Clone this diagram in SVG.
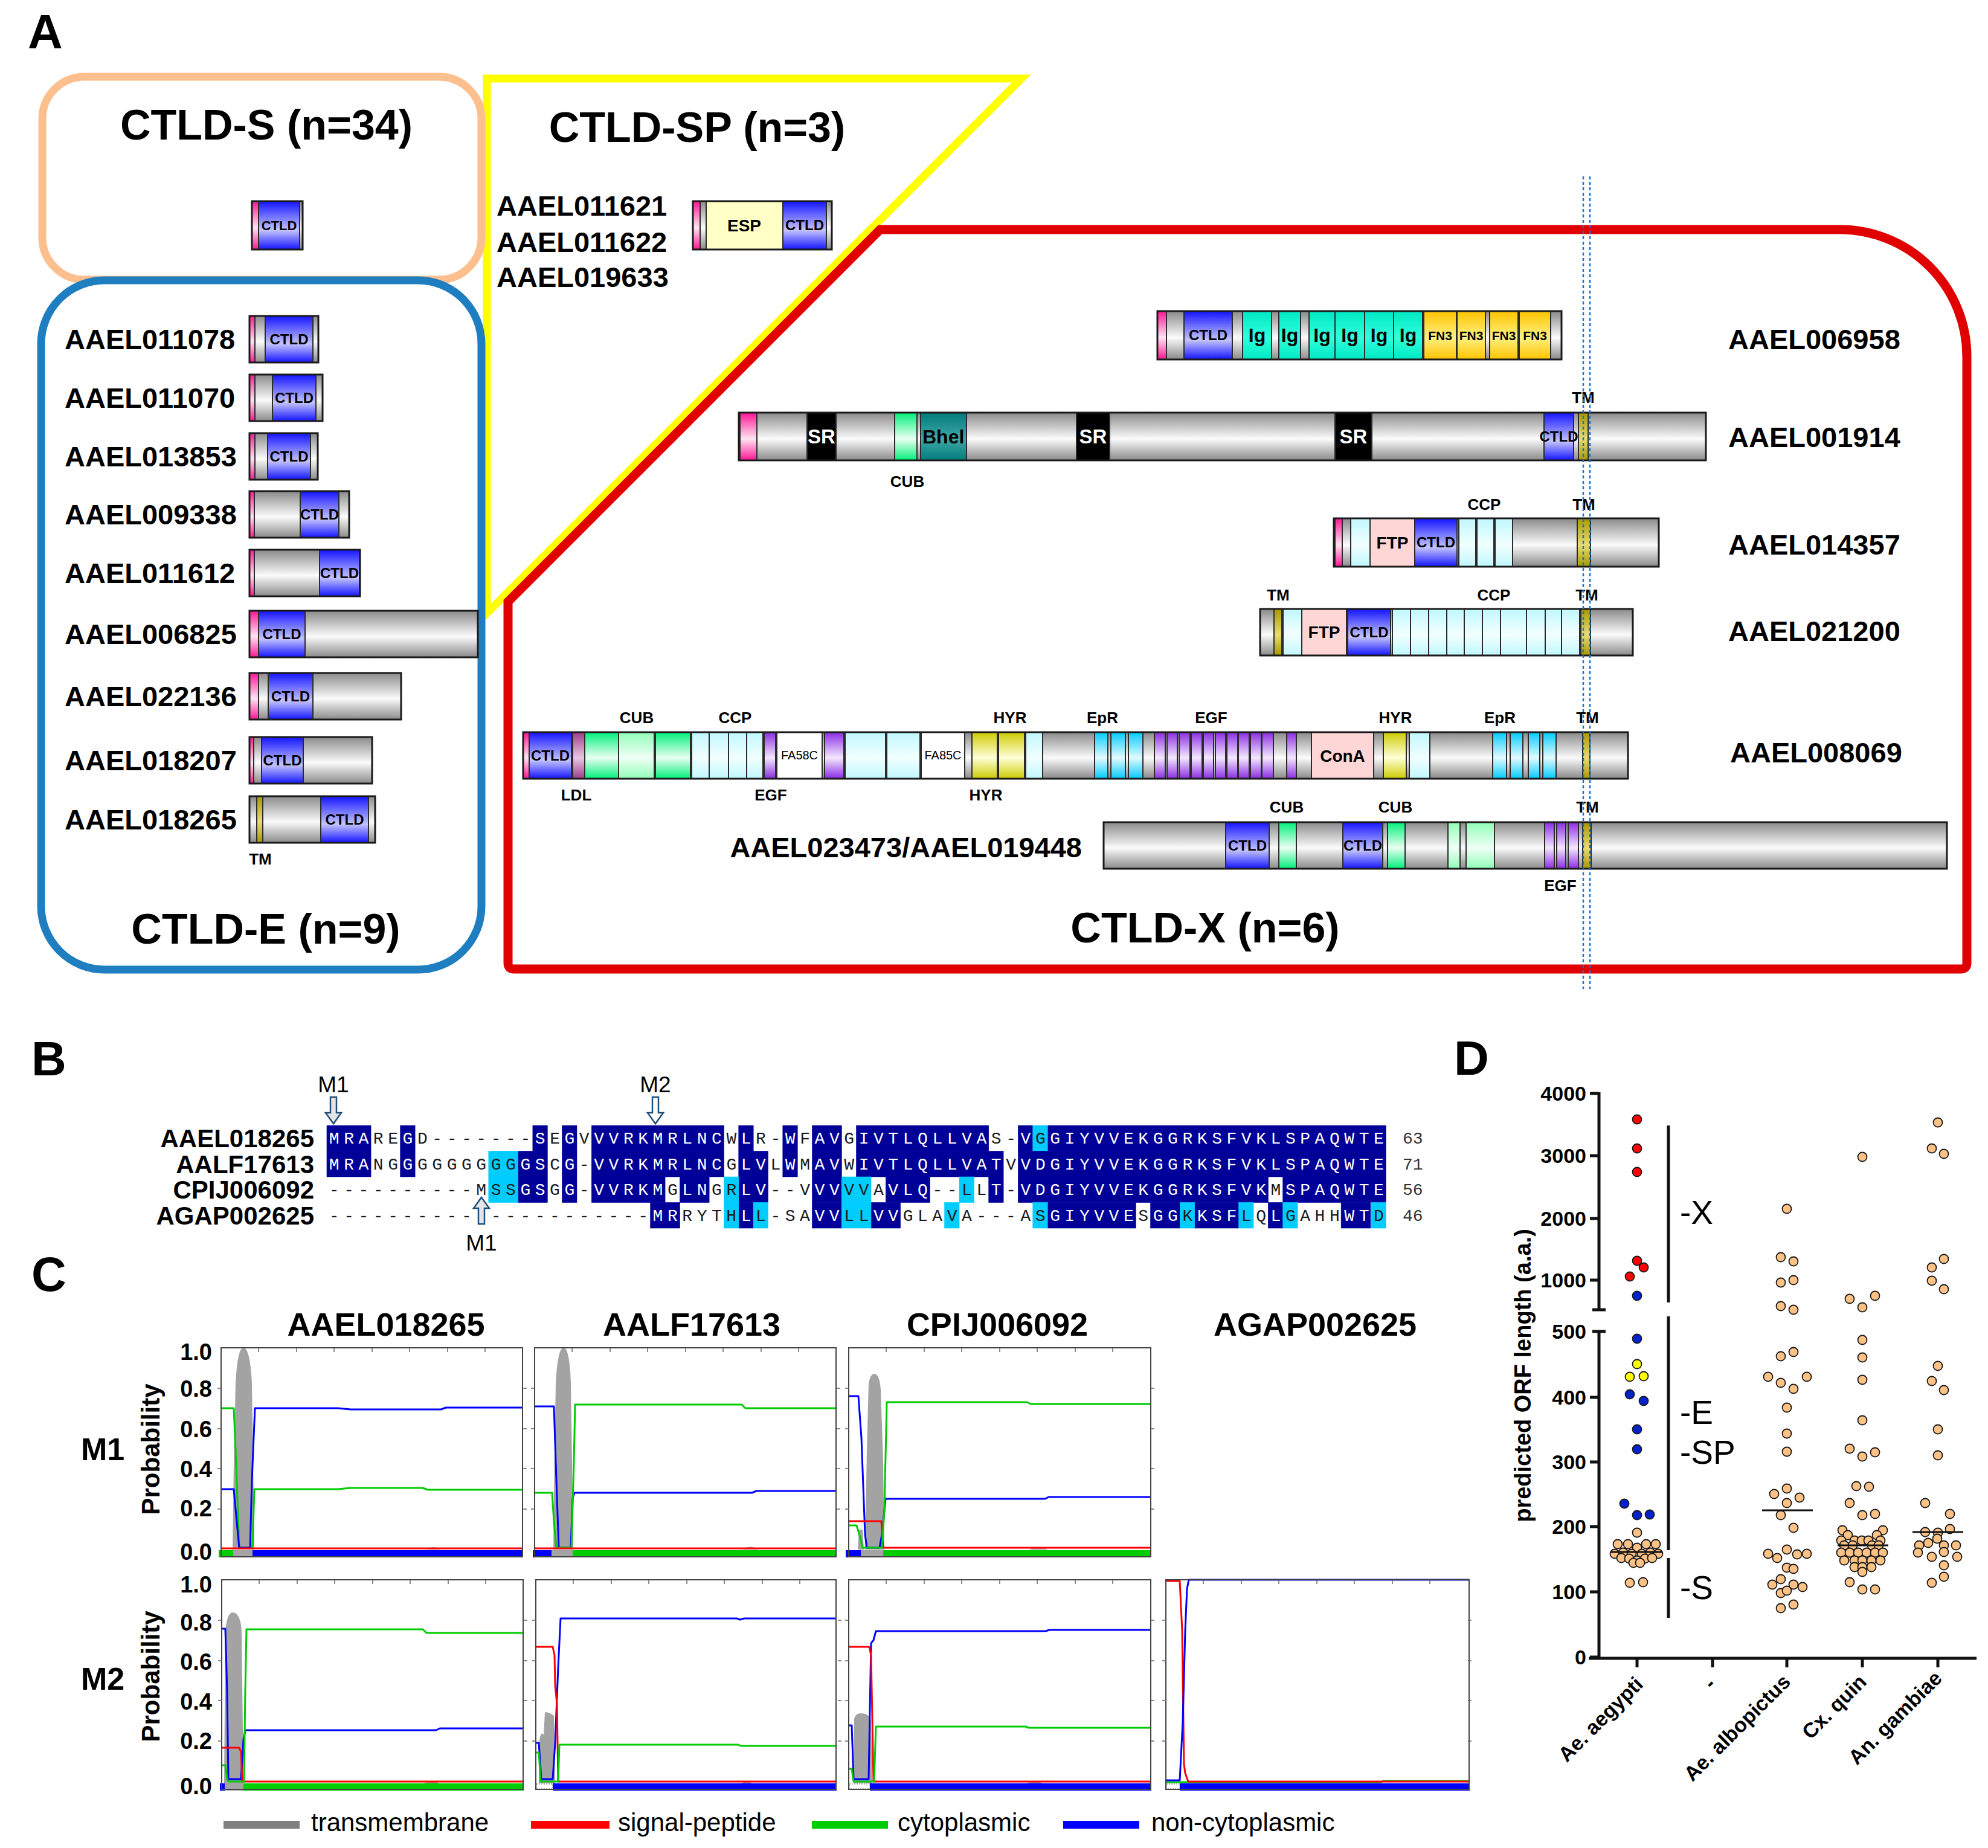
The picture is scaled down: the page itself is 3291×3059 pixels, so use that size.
<svg xmlns="http://www.w3.org/2000/svg" width="3291" height="3059" viewBox="0 0 3291 3059">
<defs>
<linearGradient id="gGray" x1="0" y1="0" x2="0" y2="1"><stop offset="0" stop-color="#8a8a8a"/><stop offset="0.55" stop-color="#fbfbfb"/><stop offset="1" stop-color="#8a8a8a"/></linearGradient>
<linearGradient id="gBlue" x1="0" y1="0" x2="0" y2="1"><stop offset="0" stop-color="#1414ff"/><stop offset="0.6" stop-color="#c4c4ff"/><stop offset="1" stop-color="#1414ff"/></linearGradient>
<linearGradient id="gPink" x1="0" y1="0" x2="0" y2="1"><stop offset="0" stop-color="#ff1493"/><stop offset="0.55" stop-color="#ffe4f2"/><stop offset="1" stop-color="#ff1493"/></linearGradient>
<linearGradient id="gIg" x1="0" y1="0" x2="0" y2="1"><stop offset="0" stop-color="#00e8c4"/><stop offset="0.55" stop-color="#30ffdc"/><stop offset="1" stop-color="#00e8c4"/></linearGradient>
<linearGradient id="gFN" x1="0" y1="0" x2="0" y2="1"><stop offset="0" stop-color="#ffc400"/><stop offset="0.55" stop-color="#fff080"/><stop offset="1" stop-color="#ffc400"/></linearGradient>
<linearGradient id="gCCP" x1="0" y1="0" x2="0" y2="1"><stop offset="0" stop-color="#bff8ff"/><stop offset="0.55" stop-color="#f2ffff"/><stop offset="1" stop-color="#bff8ff"/></linearGradient>
<linearGradient id="gBhel" x1="0" y1="0" x2="0" y2="1"><stop offset="0" stop-color="#007a7a"/><stop offset="0.55" stop-color="#40a8a8"/><stop offset="1" stop-color="#007a7a"/></linearGradient>
<linearGradient id="gCUB" x1="0" y1="0" x2="0" y2="1"><stop offset="0" stop-color="#00f07a"/><stop offset="0.55" stop-color="#eafff2"/><stop offset="1" stop-color="#00f07a"/></linearGradient>
<linearGradient id="gCUB2" x1="0" y1="0" x2="0" y2="1"><stop offset="0" stop-color="#90ffb8"/><stop offset="0.55" stop-color="#f0fff6"/><stop offset="1" stop-color="#90ffb8"/></linearGradient>
<linearGradient id="gHYR" x1="0" y1="0" x2="0" y2="1"><stop offset="0" stop-color="#cccc00"/><stop offset="0.55" stop-color="#ffffd8"/><stop offset="1" stop-color="#cccc00"/></linearGradient>
<linearGradient id="gEpR" x1="0" y1="0" x2="0" y2="1"><stop offset="0" stop-color="#00ccff"/><stop offset="0.55" stop-color="#e4faff"/><stop offset="1" stop-color="#00ccff"/></linearGradient>
<linearGradient id="gEGF" x1="0" y1="0" x2="0" y2="1"><stop offset="0" stop-color="#8a2be2"/><stop offset="0.55" stop-color="#f4e8ff"/><stop offset="1" stop-color="#8a2be2"/></linearGradient>
<linearGradient id="gTM" x1="0" y1="0" x2="0" y2="1"><stop offset="0" stop-color="#a89800"/><stop offset="0.55" stop-color="#e8dc70"/><stop offset="1" stop-color="#a89800"/></linearGradient>
<linearGradient id="gLDL" x1="0" y1="0" x2="0" y2="1"><stop offset="0" stop-color="#a03c8c"/><stop offset="0.55" stop-color="#e8c8e0"/><stop offset="1" stop-color="#a03c8c"/></linearGradient>
<path id="ticks" d="M62,0v7 M125,0v7 M187,0v7 M250,0v7 M312,0v7 M375,0v7 M437,0v7 M500,67h6 M500,134h6 M500,200h6 M500,267h6 M0,67h-6 M0,134h-6 M0,200h-6 M0,267h-6" stroke="#666" stroke-width="1.5" fill="none"/>
</defs>
<style>
text{font-family:"Liberation Sans",Arial,sans-serif}
.b{font-weight:bold}
.L{font-size:80px;font-weight:bold}
.ti{font-size:70px;font-weight:bold;text-anchor:middle}
.gn{font-size:47px;font-weight:bold}
.ct{font-size:24px;font-weight:bold;text-anchor:middle}
.dl{font-size:26px;font-weight:bold;text-anchor:middle}
.bar rect{stroke:#2b2b2b;stroke-width:2}
.bar .ol{fill:none;stroke:#1a1a1a;stroke-width:3}
.gr{fill:url(#gGray)}.bu{fill:url(#gBlue)}.pk{fill:url(#gPink)}.ig{fill:url(#gIg)}.fn{fill:url(#gFN)}.cc{fill:url(#gCCP)}.ft{fill:#ffd6d6}.sr{fill:#000}.bh{fill:url(#gBhel)}.cu{fill:url(#gCUB)}.c2{fill:url(#gCUB2)}.hy{fill:url(#gHYR)}.ep{fill:url(#gEpR)}.eg{fill:url(#gEGF)}.tm{fill:url(#gTM)}.ld{fill:url(#gLDL)}.es{fill:#ffffc6}.wh{fill:#fff}
.seq{font-family:"Liberation Mono","Courier New",monospace;font-size:28px;letter-spacing:7.55px}
.w{fill:#fff}.k{fill:#1a1a1a}
.nb{fill:#000099;stroke:#000099;stroke-width:0.6}.nc{fill:#00ccff;stroke:#00ccff;stroke-width:0.6}
.an{font-size:42px;font-weight:bold;text-anchor:end}
.arw{fill:#e4e4e4;stroke:#1f4e79;stroke-width:2.5}
.fr{fill:none;stroke:#444;stroke-width:2}
.cv{fill:none;stroke-width:3;stroke-linejoin:round}
.G{stroke:#00cc00}.B{stroke:#0000ff}.R{stroke:#ff0000}
.tmf{fill:#a3a3a3}
.yl{font-size:38px;font-weight:bold;text-anchor:end}
.lgt{font-size:42px}
.pt circle{r:7.5px;stroke:#1a1a1a;stroke-width:1.8}
.pe{fill:#ffc285}.rd{fill:#ff0000}.bd{fill:#0022cc}.yw{fill:#ffff00}
.dy{font-size:34px;font-weight:bold;text-anchor:end}
</style>
<rect width="3291" height="3059" fill="#fff"/>

<g id="panelA">
<text class="L" x="46" y="80">A</text>
<path id="sp-frame" d="M806,130 L1691,130 L806,1015 Z" fill="none" stroke="#ffff00" stroke-width="13" stroke-linejoin="miter"/>
<path id="x-frame" d="M841,1594 L841,996 L1457,380 L3046,380 A210,210 0 0 1 3256,590 L3256,1594 Q3256,1604 3246,1604 L851,1604 Q841,1604 841,1594 Z" fill="none" stroke="#e00000" stroke-width="15"/>
<rect id="s-frame" x="70" y="127" width="727" height="336" rx="70" fill="none" stroke="#fdbf8e" stroke-width="13"/>
<rect id="e-frame" x="68" y="464" width="729" height="1141" rx="105" fill="none" stroke="#1f7ec0" stroke-width="13"/>
<text class="ti" x="441" y="231">CTLD-S (n=34)</text>
<text class="ti" x="1154" y="235">CTLD-SP (n=3)</text>
<text class="ti" x="440" y="1562">CTLD-E (n=9)</text>
<text class="ti" x="1995" y="1560">CTLD-X (n=6)</text>

<g id="s-bar" class="bar"><rect class="gr" x="417" y="333" width="84" height="80"/><rect class="pk" x="417" y="333" width="11" height="80"/><rect class="bu" x="428" y="333" width="68" height="80"/><text class="ct" x="462" y="381" style="font-size:22px">CTLD</text><rect class="ol" x="417" y="333" width="84" height="80"/></g>

<g id="sp-genes"><text class="gn" x="822" y="357">AAEL011621</text><text class="gn" x="822" y="417">AAEL011622</text><text class="gn" x="822" y="475">AAEL019633</text></g>
<g id="sp-bar" class="bar"><rect class="gr" x="1147" y="333" width="230" height="80"/><rect class="pk" x="1147" y="333" width="12" height="80"/><rect class="es" x="1169" y="333" width="127" height="80"/><rect class="bu" x="1296" y="333" width="72" height="80"/><text class="b" x="1232" y="383" text-anchor="middle" font-size="28">ESP</text><text class="ct" x="1332" y="381">CTLD</text><rect class="ol" x="1147" y="333" width="230" height="80"/></g>

<g id="e-genes">
<text class="gn" x="107" y="578">AAEL011078</text>
<text class="gn" x="107" y="675">AAEL011070</text>
<text class="gn" x="107" y="772">AAEL013853</text>
<text class="gn" x="107" y="868">AAEL009338</text>
<text class="gn" x="107" y="965">AAEL011612</text>
<text class="gn" x="107" y="1066">AAEL006825</text>
<text class="gn" x="107" y="1169">AAEL022136</text>
<text class="gn" x="107" y="1275">AAEL018207</text>
<text class="gn" x="107" y="1373">AAEL018265</text>
</g>
<g id="e-bars" class="bar">
<rect class="gr" x="413" y="523" width="114" height="77"/><rect class="pk" x="413" y="523" width="9" height="77"/><rect class="bu" x="439" y="523" width="79" height="77"/><text class="ct" x="478.5" y="570">CTLD</text><rect class="ol" x="413" y="523" width="114" height="77"/>
<rect class="gr" x="413" y="620" width="121" height="77"/><rect class="pk" x="413" y="620" width="9" height="77"/><rect class="bu" x="451" y="620" width="72" height="77"/><text class="ct" x="487" y="667">CTLD</text><rect class="ol" x="413" y="620" width="121" height="77"/>
<rect class="gr" x="413" y="717" width="113" height="77"/><rect class="pk" x="413" y="717" width="9" height="77"/><rect class="bu" x="443" y="717" width="71" height="77"/><text class="ct" x="478.5" y="764">CTLD</text><rect class="ol" x="413" y="717" width="113" height="77"/>
<rect class="gr" x="413" y="813" width="165" height="77"/><rect class="pk" x="413" y="813" width="8" height="77"/><rect class="bu" x="497" y="813" width="64" height="77"/><text class="ct" x="529" y="860">CTLD</text><rect class="ol" x="413" y="813" width="165" height="77"/>
<rect class="gr" x="413" y="910" width="183" height="77"/><rect class="pk" x="413" y="910" width="8" height="77"/><rect class="bu" x="529" y="910" width="66" height="77"/><text class="ct" x="562" y="957">CTLD</text><rect class="ol" x="413" y="910" width="183" height="77"/>
<rect class="gr" x="413" y="1011" width="378" height="77"/><rect class="pk" x="413" y="1011" width="15" height="77"/><rect class="bu" x="428" y="1011" width="77" height="77"/><text class="ct" x="466.5" y="1058">CTLD</text><rect class="ol" x="413" y="1011" width="378" height="77"/>
<rect class="gr" x="413" y="1114" width="251" height="77"/><rect class="pk" x="413" y="1114" width="15" height="77"/><rect class="bu" x="444" y="1114" width="74" height="77"/><text class="ct" x="481" y="1161">CTLD</text><rect class="ol" x="413" y="1114" width="251" height="77"/>
<rect class="gr" x="413" y="1220" width="203" height="77"/><rect class="pk" x="413" y="1220" width="7" height="77"/><rect class="bu" x="433" y="1220" width="69" height="77"/><text class="ct" x="467.5" y="1267">CTLD</text><rect class="ol" x="413" y="1220" width="203" height="77"/>
<rect class="gr" x="413" y="1318" width="208" height="77"/><rect class="tm" x="425" y="1318" width="10" height="77"/><rect class="bu" x="531" y="1318" width="79" height="77"/><text class="ct" x="570.5" y="1365">CTLD</text><rect class="ol" x="413" y="1318" width="208" height="77"/>
</g>
<text class="dl" x="431" y="1431">TM</text>

<g id="AAEL006958" class="bar">
<rect class="gr" x="1916" y="515" width="669" height="80"/>
<rect class="pk" x="1916" y="515" width="15" height="80"/>
<rect class="bu" x="1960" y="515" width="80" height="80"/>
<rect class="ig" x="2057" y="515" width="48" height="80"/><rect class="ig" x="2117" y="515" width="36" height="80"/><rect class="ig" x="2167" y="515" width="43" height="80"/><rect class="ig" x="2210" y="515" width="49" height="80"/><rect class="ig" x="2259" y="515" width="48" height="80"/><rect class="ig" x="2307" y="515" width="48" height="80"/>
<rect class="fn" x="2357" y="515" width="54" height="80"/><rect class="fn" x="2412" y="515" width="47" height="80"/><rect class="fn" x="2466" y="515" width="47" height="80"/><rect class="fn" x="2515" y="515" width="52" height="80"/>
<text class="ct" x="2000" y="563">CTLD</text>
<g class="b" font-size="32" text-anchor="middle"><text x="2081" y="566">Ig</text><text x="2135" y="566">Ig</text><text x="2188.5" y="566">Ig</text><text x="2234.5" y="566">Ig</text><text x="2283" y="566">Ig</text><text x="2331" y="566">Ig</text></g>
<g class="b" font-size="21" text-anchor="middle"><text x="2384" y="563">FN3</text><text x="2435.5" y="563">FN3</text><text x="2489.5" y="563">FN3</text><text x="2541" y="563">FN3</text></g>
<rect class="ol" x="1916" y="515" width="669" height="80"/>
</g>
<text class="gn" x="2861" y="578">AAEL006958</text>

<g id="AAEL001914" class="bar">
<rect class="gr" x="1223" y="683" width="1601" height="79"/>
<rect class="pk" x="1225" y="683" width="28" height="79"/>
<rect class="sr" x="1336" y="683" width="48" height="79"/><rect class="sr" x="1782" y="683" width="55" height="79"/><rect class="sr" x="2210" y="683" width="61" height="79"/>
<rect class="cu" x="1481" y="683" width="37" height="79"/>
<rect class="bh" x="1524" y="683" width="76" height="79"/>
<rect class="bu" x="2556" y="683" width="49" height="79"/>
<rect class="tm" x="2613" y="683" width="16" height="79"/>
<g class="b" font-size="33" fill="#fff" text-anchor="middle"><text x="1360" y="734">SR</text><text x="1809.5" y="734">SR</text><text x="2240.5" y="734">SR</text></g>
<text class="b" x="1527" y="734" font-size="32">Bhel</text>
<text class="ct" x="2580.5" y="731">CTLD</text>
<rect class="ol" x="1223" y="683" width="1601" height="79"/>
</g>
<text class="dl" x="1502" y="806">CUB</text><text class="dl" x="2621" y="667">TM</text>
<text class="gn" x="2861" y="740">AAEL001914</text>

<g id="AAEL014357" class="bar">
<rect class="gr" x="2208" y="858" width="538" height="80"/>
<rect class="pk" x="2210" y="858" width="12" height="80"/>
<rect class="cc" x="2236" y="858" width="32" height="80"/><rect class="cc" x="2415" y="858" width="28" height="80"/><rect class="cc" x="2445" y="858" width="28" height="80"/><rect class="cc" x="2475" y="858" width="29" height="80"/>
<rect class="ft" x="2268" y="858" width="74" height="80"/>
<rect class="bu" x="2342" y="858" width="70" height="80"/>
<rect class="tm" x="2611" y="858" width="22" height="80"/>
<text class="b" x="2305" y="908" font-size="28" text-anchor="middle">FTP</text>
<text class="ct" x="2377" y="906">CTLD</text>
<rect class="ol" x="2208" y="858" width="538" height="80"/>
</g>
<text class="dl" x="2457" y="844">CCP</text><text class="dl" x="2622" y="844">TM</text>
<text class="gn" x="2861" y="918">AAEL014357</text>

<g id="AAEL021200" class="bar">
<rect class="gr" x="2086" y="1008" width="617" height="77"/>
<rect class="tm" x="2109" y="1008" width="13" height="77"/><rect class="tm" x="2617" y="1008" width="16" height="77"/>
<rect class="cc" x="2124" y="1008" width="31" height="77"/><rect class="cc" x="2305" y="1008" width="30" height="77"/><rect class="cc" x="2335" y="1008" width="30" height="77"/><rect class="cc" x="2365" y="1008" width="30" height="77"/><rect class="cc" x="2395" y="1008" width="29" height="77"/><rect class="cc" x="2424" y="1008" width="30" height="77"/><rect class="cc" x="2454" y="1008" width="30" height="77"/><rect class="cc" x="2484" y="1008" width="43" height="77"/><rect class="cc" x="2527" y="1008" width="31" height="77"/><rect class="cc" x="2558" y="1008" width="27" height="77"/><rect class="cc" x="2585" y="1008" width="30" height="77"/>
<rect class="ft" x="2155" y="1008" width="74" height="77"/>
<rect class="bu" x="2231" y="1008" width="71" height="77"/>
<text class="b" x="2192" y="1056" font-size="28" text-anchor="middle">FTP</text>
<text class="ct" x="2266.5" y="1055">CTLD</text>
<rect class="ol" x="2086" y="1008" width="617" height="77"/>
</g>
<text class="dl" x="2116" y="994">TM</text><text class="dl" x="2473" y="994">CCP</text><text class="dl" x="2627" y="994">TM</text>
<text class="gn" x="2861" y="1061">AAEL021200</text>

<g id="AAEL008069" class="bar">
<rect class="gr" x="866" y="1212" width="1829" height="77"/>
<rect class="pk" x="866" y="1212" width="10" height="77"/>
<rect class="bu" x="876" y="1212" width="70" height="77"/>
<rect class="ld" x="948" y="1212" width="20" height="77"/>
<rect class="cu" x="968" y="1212" width="56" height="77"/><rect class="c2" x="1024" y="1212" width="59" height="77"/><rect class="cu" x="1085" y="1212" width="58" height="77"/>
<rect class="cc" x="1145" y="1212" width="29" height="77"/><rect class="cc" x="1174" y="1212" width="32" height="77"/><rect class="cc" x="1206" y="1212" width="30" height="77"/><rect class="cc" x="1236" y="1212" width="27" height="77"/>
<rect class="eg" x="1265" y="1212" width="19" height="77"/>
<rect class="wh" x="1286" y="1212" width="75" height="77"/>
<rect class="eg" x="1365" y="1212" width="32" height="77"/>
<rect class="cc" x="1399" y="1212" width="67" height="77"/><rect class="cc" x="1468" y="1212" width="55" height="77"/>
<rect class="wh" x="1525" y="1212" width="72" height="77"/>
<rect class="hy" x="1609" y="1212" width="42" height="77"/><rect class="hy" x="1653" y="1212" width="43" height="77"/>
<rect class="cc" x="1698" y="1212" width="28" height="77"/>
<rect class="ep" x="1812" y="1212" width="22" height="77"/><rect class="ep" x="1839" y="1212" width="24" height="77"/><rect class="ep" x="1868" y="1212" width="24" height="77"/>
<rect class="eg" x="1911" y="1212" width="18" height="77"/><rect class="eg" x="1932" y="1212" width="17" height="77"/><rect class="eg" x="1952" y="1212" width="18" height="77"/><rect class="eg" x="1972" y="1212" width="18" height="77"/><rect class="eg" x="1992" y="1212" width="17" height="77"/><rect class="eg" x="2012" y="1212" width="17" height="77"/><rect class="eg" x="2031" y="1212" width="18" height="77"/><rect class="eg" x="2050" y="1212" width="18" height="77"/><rect class="eg" x="2070" y="1212" width="18" height="77"/><rect class="eg" x="2089" y="1212" width="19" height="77"/><rect class="eg" x="2130" y="1212" width="16" height="77"/>
<rect class="ft" x="2171" y="1212" width="103" height="77"/>
<rect class="hy" x="2290" y="1212" width="38" height="77"/>
<rect class="cc" x="2333" y="1212" width="34" height="77"/>
<rect class="ep" x="2471" y="1212" width="23" height="77"/><rect class="ep" x="2500" y="1212" width="21" height="77"/><rect class="ep" x="2530" y="1212" width="19" height="77"/><rect class="ep" x="2554" y="1212" width="22" height="77"/>
<rect class="tm" x="2620" y="1212" width="12" height="77"/>
<text class="ct" x="911" y="1259">CTLD</text>
<text x="1323.5" y="1257" font-size="20" text-anchor="middle">FA58C</text>
<text x="1561" y="1257" font-size="20" text-anchor="middle">FA85C</text>
<text class="b" x="2222.5" y="1261" font-size="28" text-anchor="middle">ConA</text>
<rect class="ol" x="866" y="1212" width="1829" height="77"/>
</g>
<g id="AAEL008069-labels">
<text class="dl" x="1054" y="1197">CUB</text><text class="dl" x="1217" y="1197">CCP</text><text class="dl" x="1672" y="1197">HYR</text><text class="dl" x="1825" y="1197">EpR</text><text class="dl" x="2005" y="1197">EGF</text><text class="dl" x="2310" y="1197">HYR</text><text class="dl" x="2483" y="1197">EpR</text><text class="dl" x="2628" y="1197">TM</text>
<text class="dl" x="954" y="1325">LDL</text><text class="dl" x="1276" y="1325">EGF</text><text class="dl" x="1632" y="1325">HYR</text>
</g>
<text class="gn" x="2864" y="1262">AAEL008069</text>

<g id="AAEL023473" class="bar">
<rect class="gr" x="1827" y="1361" width="1396" height="77"/>
<rect class="bu" x="2029" y="1361" width="72" height="77"/><rect class="bu" x="2223" y="1361" width="66" height="77"/>
<rect class="cu" x="2117" y="1361" width="29" height="77"/><rect class="cu" x="2297" y="1361" width="29" height="77"/>
<rect class="c2" x="2397" y="1361" width="20" height="77"/><rect class="c2" x="2427" y="1361" width="47" height="77"/>
<rect class="eg" x="2557" y="1361" width="16" height="77"/><rect class="eg" x="2577" y="1361" width="15" height="77"/><rect class="eg" x="2596" y="1361" width="17" height="77"/>
<rect class="tm" x="2620" y="1361" width="14" height="77"/>
<text class="ct" x="2065" y="1408">CTLD</text><text class="ct" x="2256" y="1408">CTLD</text>
<rect class="ol" x="1827" y="1361" width="1396" height="77"/>
</g>
<text class="dl" x="2130" y="1345">CUB</text><text class="dl" x="2310" y="1345">CUB</text><text class="dl" x="2628" y="1345">TM</text><text class="dl" x="2583" y="1475">EGF</text>
<text class="gn" x="1791" y="1419" text-anchor="end">AAEL023473/AAEL019448</text>

<g id="tm-guides" stroke="#1a6fd0" stroke-width="2.5" stroke-dasharray="5 4"><line x1="2621" y1="292" x2="2621" y2="1637"/><line x1="2632" y1="292" x2="2632" y2="1637"/></g>
</g>

<g id="panelB">
<text class="L" x="52" y="1780">B</text>
<g id="shade">
<rect class="nb" x="541" y="1863" width="73.05" height="42.5"/><rect class="nb" x="662.75" y="1863" width="24.35" height="42.5"/><rect class="nb" x="881.9" y="1863" width="24.35" height="42.5"/><rect class="nb" x="930.6" y="1863" width="24.35" height="42.5"/><rect class="nb" x="979.3" y="1863" width="219.15" height="42.5"/><rect class="nb" x="1222.8" y="1863" width="24.35" height="42.5"/><rect class="nb" x="1295.85" y="1863" width="24.35" height="42.5"/><rect class="nb" x="1344.55" y="1863" width="48.7" height="42.5"/><rect class="nb" x="1417.6" y="1863" width="219.15" height="42.5"/><rect class="nb" x="1685.45" y="1863" width="24.35" height="42.5"/><rect class="nb" x="1734.15" y="1863" width="560.05" height="42.5"/><rect class="nc" x="1709.8" y="1863" width="24.35" height="42.5"/>
<rect class="nb" x="541" y="1905.5" width="73.05" height="42.5"/><rect class="nb" x="662.75" y="1905.5" width="24.35" height="42.5"/><rect class="nb" x="857.55" y="1905.5" width="48.7" height="42.5"/><rect class="nb" x="930.6" y="1905.5" width="24.35" height="42.5"/><rect class="nb" x="979.3" y="1905.5" width="219.15" height="42.5"/><rect class="nb" x="1222.8" y="1905.5" width="48.7" height="42.5"/><rect class="nb" x="1295.85" y="1905.5" width="24.35" height="42.5"/><rect class="nb" x="1344.55" y="1905.5" width="48.7" height="42.5"/><rect class="nb" x="1417.6" y="1905.5" width="243.5" height="42.5"/><rect class="nb" x="1685.45" y="1905.5" width="608.75" height="42.5"/><rect class="nc" x="808.85" y="1905.5" width="48.7" height="42.5"/>
<rect class="nb" x="857.55" y="1948" width="48.7" height="42.5"/><rect class="nb" x="930.6" y="1948" width="24.35" height="42.5"/><rect class="nb" x="979.3" y="1948" width="121.75" height="42.5"/><rect class="nb" x="1125.4" y="1948" width="48.7" height="42.5"/><rect class="nb" x="1222.8" y="1948" width="48.7" height="42.5"/><rect class="nb" x="1344.55" y="1948" width="48.7" height="42.5"/><rect class="nb" x="1466.3" y="1948" width="73.05" height="42.5"/><rect class="nb" x="1636.75" y="1948" width="24.35" height="42.5"/><rect class="nb" x="1685.45" y="1948" width="413.95" height="42.5"/><rect class="nb" x="2123.75" y="1948" width="170.45" height="42.5"/><rect class="nc" x="808.85" y="1948" width="48.7" height="42.5"/><rect class="nc" x="1198.45" y="1948" width="24.35" height="42.5"/><rect class="nc" x="1393.25" y="1948" width="48.7" height="42.5"/><rect class="nc" x="1588.05" y="1948" width="24.35" height="42.5"/>
<rect class="nb" x="1076.7" y="1990.5" width="48.7" height="42.5"/><rect class="nb" x="1222.8" y="1990.5" width="24.35" height="42.5"/><rect class="nb" x="1344.55" y="1990.5" width="48.7" height="42.5"/><rect class="nb" x="1441.95" y="1990.5" width="48.7" height="42.5"/><rect class="nb" x="1734.15" y="1990.5" width="146.1" height="42.5"/><rect class="nb" x="1904.6" y="1990.5" width="48.7" height="42.5"/><rect class="nb" x="1977.65" y="1990.5" width="73.05" height="42.5"/><rect class="nb" x="2099.4" y="1990.5" width="24.35" height="42.5"/><rect class="nb" x="2220.15" y="1990.5" width="48.7" height="42.5"/><rect class="nc" x="1198.45" y="1990.5" width="24.35" height="42.5"/><rect class="nc" x="1247.15" y="1990.5" width="24.35" height="42.5"/><rect class="nc" x="1393.25" y="1990.5" width="48.7" height="42.5"/><rect class="nc" x="1563.7" y="1990.5" width="24.35" height="42.5"/><rect class="nc" x="1709.8" y="1990.5" width="24.35" height="42.5"/><rect class="nc" x="1953.3" y="1990.5" width="24.35" height="42.5"/><rect class="nc" x="2050.7" y="1990.5" width="24.35" height="42.5"/><rect class="nc" x="2123.75" y="1990.5" width="24.35" height="42.5"/><rect class="nc" x="2269.85" y="1990.5" width="24.35" height="42.5"/>
</g>
<g id="names"><text class="an" x="520" y="1899">AAEL018265</text><text class="an" x="520" y="1942">AALF17613</text><text class="an" x="520" y="1984">CPIJ006092</text><text class="an" x="520" y="2027">AGAP002625</text></g>
<g id="seqs">
<text class="seq" x="544.8" y="1893"><tspan class="w">MRA</tspan><tspan class="k">RE</tspan><tspan class="w">G</tspan><tspan class="k">D-------</tspan><tspan class="w">S</tspan><tspan class="k">E</tspan><tspan class="w">G</tspan><tspan class="k">V</tspan><tspan class="w">VVRKMRLNC</tspan><tspan class="k">W</tspan><tspan class="w">L</tspan><tspan class="k">R-</tspan><tspan class="w">W</tspan><tspan class="k">F</tspan><tspan class="w">AV</tspan><tspan class="k">G</tspan><tspan class="w">IVTLQLLVA</tspan><tspan class="k">S-</tspan><tspan class="w">V</tspan><tspan class="k">G</tspan><tspan class="w">GIYVVEKGGRKSFVKLSPAQWTE</tspan></text>
<text class="seq" x="544.8" y="1935.5"><tspan class="w">MRA</tspan><tspan class="k">NG</tspan><tspan class="w">G</tspan><tspan class="k">GGGGGGG</tspan><tspan class="w">GS</tspan><tspan class="k">C</tspan><tspan class="w">G</tspan><tspan class="k">-</tspan><tspan class="w">VVRKMRLNC</tspan><tspan class="k">G</tspan><tspan class="w">LV</tspan><tspan class="k">L</tspan><tspan class="w">W</tspan><tspan class="k">M</tspan><tspan class="w">AV</tspan><tspan class="k">W</tspan><tspan class="w">IVTLQLLVAT</tspan><tspan class="k">V</tspan><tspan class="w">VDGIYVVEKGGRKSFVKLSPAQWTE</tspan></text>
<text class="seq" x="544.8" y="1978"><tspan class="k">----------MSS</tspan><tspan class="w">GS</tspan><tspan class="k">G</tspan><tspan class="w">G</tspan><tspan class="k">-</tspan><tspan class="w">VVRKM</tspan><tspan class="k">G</tspan><tspan class="w">LN</tspan><tspan class="k">GR</tspan><tspan class="w">LV</tspan><tspan class="k">--V</tspan><tspan class="w">VV</tspan><tspan class="k">VVA</tspan><tspan class="w">VLQ</tspan><tspan class="k">--LL</tspan><tspan class="w">T</tspan><tspan class="k">-</tspan><tspan class="w">VDGIYVVEKGGRKSFVK</tspan><tspan class="k">M</tspan><tspan class="w">SPAQWTE</tspan></text>
<text class="seq" x="544.8" y="2020.5"><tspan class="k">----------------------</tspan><tspan class="w">MR</tspan><tspan class="k">RYTH</tspan><tspan class="w">L</tspan><tspan class="k">L-SA</tspan><tspan class="w">VV</tspan><tspan class="k">LL</tspan><tspan class="w">VV</tspan><tspan class="k">GLAVA---AS</tspan><tspan class="w">GIYVVE</tspan><tspan class="k">S</tspan><tspan class="w">GG</tspan><tspan class="k">K</tspan><tspan class="w">KSF</tspan><tspan class="k">LQ</tspan><tspan class="w">L</tspan><tspan class="k">GAHH</tspan><tspan class="w">WT</tspan><tspan class="k">D</tspan></text>
</g>
<g id="counts" font-family="Liberation Mono, monospace" font-size="28" fill="#333"><text x="2322" y="1893" style="font-family:'Liberation Mono',monospace">63</text><text x="2322" y="1935.5" style="font-family:'Liberation Mono',monospace">71</text><text x="2322" y="1978" style="font-family:'Liberation Mono',monospace">56</text><text x="2322" y="2020.5" style="font-family:'Liberation Mono',monospace">46</text></g>
<g id="arrows">
<path class="arw" d="M547,1816 L557,1816 L557,1842 L565,1842 L552,1860 L539,1842 L547,1842 Z"/>
<path class="arw" d="M1080,1816 L1090,1816 L1090,1842 L1098,1842 L1085,1860 L1072,1842 L1080,1842 Z" style="fill:#fff"/>
<path class="arw" d="M797,1982 L810,2000 L802,2000 L802,2026 L792,2026 L792,2000 L784,2000 Z"/>
<g font-size="37" text-anchor="middle"><text x="552" y="1808">M1</text><text x="1085" y="1808">M2</text><text x="797" y="2070">M1</text></g>
</g>
</g>

<g id="panelC">
<text class="L" x="52" y="2137">C</text>
<g class="b" font-size="54" text-anchor="middle"><text x="639" y="2211">AAEL018265</text><text x="1145" y="2211">AALF17613</text><text x="1651" y="2211">CPIJ006092</text><text x="2177" y="2211">AGAP002625</text></g>
<text class="b" x="134" y="2417" font-size="52">M1</text>
<text class="b" x="134" y="2797" font-size="52">M2</text>
<text class="b" font-size="42" text-anchor="middle" transform="translate(264,2399) rotate(-90)">Probability</text>
<text class="b" font-size="42" text-anchor="middle" transform="translate(264,2775) rotate(-90)">Probability</text>
<g id="ylab1"><text class="yl" x="351" y="2251">1.0</text><text class="yl" x="351" y="2312">0.8</text><text class="yl" x="351" y="2379">0.6</text><text class="yl" x="351" y="2445">0.4</text><text class="yl" x="351" y="2510">0.2</text><text class="yl" x="351" y="2582">0.0</text></g>
<g id="ylab2"><text class="yl" x="351" y="2636">1.0</text><text class="yl" x="351" y="2699">0.8</text><text class="yl" x="351" y="2764">0.6</text><text class="yl" x="351" y="2830">0.4</text><text class="yl" x="351" y="2895">0.2</text><text class="yl" x="351" y="2970">0.0</text></g>

<g id="plot-M1-AAEL018265">
<path class="tmf" d="M385,2565 L387,2420 L390,2290 Q393,2231 403,2231 Q414,2231 417,2290 L419,2420 L421,2565 Z M706,2565 Q718,2557 730,2565 Z"/>
<polyline class="cv G" points="366,2331 387,2331 390,2400 396,2562 418,2562 421,2465 560,2465 580,2463 700,2463 708,2466 865,2466"/>
<polyline class="cv B" points="366,2465 387,2465 392,2520 396,2562 414,2562 417,2450 422,2331 560,2331 580,2333 730,2333 738,2330 865,2330"/>
<line class="cv R" x1="366" y1="2563" x2="865" y2="2563"/>
<rect x="362" y="2566" width="24" height="12" fill="#00cc00"/><rect x="386" y="2566" width="32" height="12" fill="#a3a3a3"/><rect x="418" y="2566" width="448" height="12" fill="#0000ff"/>
<rect class="fr" x="366" y="2231" width="499" height="346"/><use href="#ticks" x="366" y="2231"/>
</g>
<g id="plot-M1-AALF17613">
<path class="tmf" d="M916,2565 L918,2400 L920,2290 Q923,2231 933,2231 Q943,2231 945,2290 L947,2420 L949,2565 Z M1229,2565 Q1242,2556 1255,2565 Z"/>
<polyline class="cv B" points="885,2328 917,2328 921,2450 925,2562 945,2562 948,2480 951,2471 1245,2471 1252,2468 1384,2468"/>
<polyline class="cv G" points="885,2471 914,2471 917,2520 921,2562 946,2562 950,2420 952,2325 1228,2325 1234,2331 1384,2331"/>
<line class="cv R" x1="885" y1="2563" x2="1384" y2="2563"/>
<rect x="882" y="2566" width="31" height="12" fill="#0000ff"/><rect x="913" y="2566" width="35" height="12" fill="#a3a3a3"/><rect x="948" y="2566" width="437" height="12" fill="#00cc00"/>
<rect class="fr" x="885" y="2231" width="499" height="346"/><use href="#ticks" x="885" y="2231"/>
</g>
<g id="plot-M1-CPIJ006092">
<path class="tmf" d="M1420,2565 L1422,2532 L1428,2532 L1430,2565 Z M1432,2565 L1435,2400 L1438,2290 Q1441,2274 1447,2274 Q1456,2274 1458,2300 L1462,2420 L1464,2565 Z M1704,2565 Q1718,2556 1734,2565 Z"/>
<polyline class="cv B" points="1405,2311 1421,2311 1426,2380 1432,2540 1435,2562 1456,2562 1460,2540 1466,2481 1730,2481 1736,2478 1905,2478"/>
<polyline class="cv R" points="1405,2518 1459,2518 1462,2562 1905,2562"/>
<polyline class="cv G" points="1405,2525 1418,2525 1424,2545 1428,2562 1460,2562 1464,2500 1468,2321 1700,2321 1706,2324 1905,2324"/>
<rect x="1400" y="2566" width="25" height="12" fill="#0000ff"/><rect x="1425" y="2566" width="37" height="12" fill="#a3a3a3"/><rect x="1462" y="2566" width="444" height="12" fill="#00cc00"/>
<rect class="fr" x="1405" y="2231" width="500" height="346"/><use href="#ticks" x="1405" y="2231"/>
</g>

<g id="plot-M2-AAEL018265">
<path class="tmf" d="M371,2952 L373,2700 Q376,2669 385,2669 Q398,2669 400,2700 L403,2952 Z M702,2952 Q714,2944 727,2952 Z"/>
<polyline class="cv B" points="367,2696 373,2696 376,2800 378,2945 399,2945 403,2880 406,2864 722,2864 728,2861 866,2861"/>
<polyline class="cv R" points="367,2893 396,2893 399,2900 401,2949 866,2949"/>
<polyline class="cv G" points="367,2922 373,2922 376,2945 378,2949 404,2949 406,2800 408,2697 700,2697 706,2703 866,2703"/>
<rect x="364" y="2952" width="8" height="12" fill="#0000ff"/><rect x="372" y="2952" width="31" height="12" fill="#a3a3a3"/><rect x="403" y="2952" width="464" height="12" fill="#00cc00"/>
<rect class="fr" x="367" y="2615" width="499" height="347"/><use href="#ticks" x="367" y="2615"/>
</g>
<g id="plot-M2-AALF17613">
<path class="tmf" d="M892,2952 L893,2880 Q896,2864 900,2872 L902,2834 Q910,2834 917,2840 L919,2952 Z M1227,2952 Q1236,2945 1245,2952 Z"/>
<polyline class="cv B" points="887,2885 892,2885 896,2945 915,2945 919,2885 924,2760 928,2679 1220,2679 1225,2681 1232,2679 1384,2679"/>
<polyline class="cv R" points="887,2726 915,2726 918,2740 919,2790 922,2820 924,2949 1384,2949"/>
<polyline class="cv G" points="887,2901 892,2901 895,2949 924,2949 926,2888 1222,2888 1226,2890 1384,2890"/>
<rect x="888" y="2953" width="27" height="8" fill="#fff" stroke="#666" stroke-width="1" stroke-dasharray="2 2"/><rect x="915" y="2952" width="470" height="12" fill="#0000ff"/>
<rect class="fr" x="887" y="2615" width="497" height="347"/><use href="#ticks" x="887" y="2615"/>
</g>
<g id="plot-M2-CPIJ006092">
<path class="tmf" d="M1413,2952 L1414,2845 Q1416,2836 1425,2836 Q1440,2836 1442,2850 L1444,2952 Z M1700,2952 Q1713,2944 1726,2952 Z"/>
<polyline class="cv B" points="1405,2856 1410,2856 1413,2945 1438,2945 1442,2720 1446,2715 1450,2700 1731,2700 1737,2698 1905,2698"/>
<polyline class="cv R" points="1405,2726 1439,2726 1442,2740 1446,2949 1905,2949"/>
<polyline class="cv G" points="1405,2928 1410,2928 1413,2949 1447,2949 1450,2858 1698,2858 1703,2860 1905,2860"/>
<rect x="1406" y="2953" width="34" height="8" fill="#fff" stroke="#666" stroke-width="1" stroke-dasharray="2 2"/><rect x="1440" y="2952" width="466" height="12" fill="#0000ff"/>
<rect class="fr" x="1405" y="2615" width="500" height="347"/><use href="#ticks" x="1405" y="2615"/>
</g>
<g id="plot-M2-AGAP002625">
<path class="tmf" d="M1932,2952 Q1940,2946 1950,2952 Z"/>
<polyline class="cv G" points="1930,2950 2286,2950 2290,2948 2432,2948"/>
<polyline class="cv R" points="1930,2617 1953,2617 1957,2700 1960,2920 1962,2935 1967,2949 2432,2949"/>
<polyline class="cv B" points="1930,2947 1953,2947 1958,2850 1962,2700 1965,2630 1968,2615 2432,2615"/>
<rect x="1931" y="2953" width="22" height="8" fill="#fff" stroke="#666" stroke-width="1" stroke-dasharray="2 2"/><rect x="1953" y="2952" width="480" height="12" fill="#0000ff"/>
<rect class="fr" x="1930" y="2615" width="502" height="347"/><use href="#ticks" x="1930" y="2615"/>
</g>

<g id="legend">
<rect x="370" y="3014" width="126" height="13" fill="#808080"/><text class="lgt" x="515" y="3031">transmembrane</text>
<rect x="879" y="3014" width="130" height="13" fill="#ff0000"/><text class="lgt" x="1023" y="3031">signal-peptide</text>
<rect x="1344" y="3014" width="126" height="13" fill="#00cc00"/><text class="lgt" x="1486" y="3031">cytoplasmic</text>
<rect x="1760" y="3014" width="126" height="13" fill="#0000ff"/><text class="lgt" x="1906" y="3031">non-cytoplasmic</text>
</g>
</g>

<g id="panelD">
<text class="L" x="2407" y="1779">D</text>
<text class="b" font-size="38" text-anchor="middle" transform="translate(2534,2277) rotate(-90)">predicted ORF length (a.a.)</text>
<path id="axes" d="M2647,1808 V2168 M2632,1810 h15 M2632,1913 h15 M2632,2017 h15 M2632,2119 h15 M2636,2168 h22 M2636,2204 h22 M2647,2202 V2745 M2632,2313 h15 M2632,2420 h15 M2632,2527 h15 M2632,2635 h15 M2632,2743 h15 M2630,2745 H3272 M2710,2745 v15 M2835,2745 v15 M2958,2745 v15 M3083,2745 v15 M3208,2745 v15" stroke="#111" stroke-width="5" fill="none"/>
<g id="ylabD"><text class="dy" x="2626" y="1822">4000</text><text class="dy" x="2626" y="1925">3000</text><text class="dy" x="2626" y="2029">2000</text><text class="dy" x="2626" y="2131">1000</text><text class="dy" x="2626" y="2216">500</text><text class="dy" x="2626" y="2325">400</text><text class="dy" x="2626" y="2432">300</text><text class="dy" x="2626" y="2539">200</text><text class="dy" x="2626" y="2647">100</text><text class="dy" x="2626" y="2755">0</text></g>
<g id="xlabD" class="b" font-size="34" text-anchor="end">
<text transform="translate(2722,2790) rotate(-45)">Ae. aegypti</text>
<text transform="translate(2842,2790) rotate(-45)">-</text>
<text transform="translate(2966,2786) rotate(-45)">Ae. albopictus</text>
<text transform="translate(3092,2786) rotate(-45)">Cx. quin</text>
<text transform="translate(3217,2780) rotate(-45)">An. gambiae</text>
</g>
<path id="groups" d="M2762,1863 V2156 M2762,2179 V2566 M2762,2579 V2678" stroke="#111" stroke-width="5"/>
<g font-size="55"><text x="2781" y="2026">-X</text><text x="2781" y="2357">-E</text><text x="2781" y="2423">-SP</text><text x="2781" y="2647">-S</text></g>
<g id="pts" class="pt">
<circle class="rd" cx="2710" cy="1853"/><circle class="rd" cx="2710" cy="1901"/><circle class="rd" cx="2710" cy="1940"/><circle class="rd" cx="2710" cy="2087"/><circle class="rd" cx="2721" cy="2098"/><circle class="rd" cx="2698" cy="2113"/>
<circle class="bd" cx="2710" cy="2145"/><circle class="bd" cx="2710" cy="2216"/><circle class="bd" cx="2698" cy="2308"/><circle class="bd" cx="2721" cy="2319"/><circle class="bd" cx="2710" cy="2366"/><circle class="bd" cx="2710" cy="2399"/><circle class="bd" cx="2689" cy="2489"/><circle class="bd" cx="2710" cy="2508"/><circle class="bd" cx="2731" cy="2507"/>
<circle class="yw" cx="2710" cy="2258"/><circle class="yw" cx="2698" cy="2279"/><circle class="yw" cx="2721" cy="2278"/>
<circle class="pe" cx="2710" cy="2537"/><circle class="pe" cx="2678" cy="2556"/><circle class="pe" cx="2695" cy="2556"/><circle class="pe" cx="2725" cy="2556"/><circle class="pe" cx="2741" cy="2556"/><circle class="pe" cx="2710" cy="2562"/><circle class="pe" cx="2673" cy="2572"/><circle class="pe" cx="2687" cy="2570"/><circle class="pe" cx="2701" cy="2572"/><circle class="pe" cx="2718" cy="2572"/><circle class="pe" cx="2732" cy="2570"/><circle class="pe" cx="2745" cy="2572"/><circle class="pe" cx="2684" cy="2579"/><circle class="pe" cx="2697" cy="2580"/><circle class="pe" cx="2710" cy="2583"/><circle class="pe" cx="2723" cy="2580"/><circle class="pe" cx="2735" cy="2579"/><circle class="pe" cx="2704" cy="2587"/><circle class="pe" cx="2715" cy="2587"/><circle class="pe" cx="2698" cy="2620"/><circle class="pe" cx="2720" cy="2619"/>
<circle class="pe" cx="2958" cy="2001"/><circle class="pe" cx="2948" cy="2081"/><circle class="pe" cx="2969" cy="2088"/><circle class="pe" cx="2948" cy="2123"/><circle class="pe" cx="2969" cy="2119"/><circle class="pe" cx="2948" cy="2162"/><circle class="pe" cx="2969" cy="2168"/><circle class="pe" cx="2948" cy="2245"/><circle class="pe" cx="2969" cy="2238"/><circle class="pe" cx="2927" cy="2279"/><circle class="pe" cx="2948" cy="2289"/><circle class="pe" cx="2969" cy="2299"/><circle class="pe" cx="2991" cy="2279"/><circle class="pe" cx="2958" cy="2330"/><circle class="pe" cx="2958" cy="2373"/><circle class="pe" cx="2958" cy="2403"/><circle class="pe" cx="2958" cy="2464"/><circle class="pe" cx="2937" cy="2473"/><circle class="pe" cx="2979" cy="2479"/><circle class="pe" cx="2958" cy="2488"/><circle class="pe" cx="2948" cy="2508"/><circle class="pe" cx="2969" cy="2529"/><circle class="pe" cx="2927" cy="2572"/><circle class="pe" cx="2958" cy="2565"/><circle class="pe" cx="2942" cy="2579"/><circle class="pe" cx="2975" cy="2573"/><circle class="pe" cx="2991" cy="2572"/><circle class="pe" cx="2958" cy="2595"/><circle class="pe" cx="2969" cy="2597"/><circle class="pe" cx="2934" cy="2623"/><circle class="pe" cx="2948" cy="2614"/><circle class="pe" cx="2969" cy="2623"/><circle class="pe" cx="2984" cy="2627"/><circle class="pe" cx="2948" cy="2637"/><circle class="pe" cx="2958" cy="2633"/><circle class="pe" cx="2948" cy="2662"/><circle class="pe" cx="2969" cy="2656"/>
<circle class="pe" cx="3083" cy="1915"/><circle class="pe" cx="3062" cy="2150"/><circle class="pe" cx="3083" cy="2164"/><circle class="pe" cx="3104" cy="2145"/><circle class="pe" cx="3083" cy="2218"/><circle class="pe" cx="3083" cy="2247"/><circle class="pe" cx="3083" cy="2284"/><circle class="pe" cx="3083" cy="2351"/><circle class="pe" cx="3062" cy="2398"/><circle class="pe" cx="3083" cy="2411"/><circle class="pe" cx="3104" cy="2404"/><circle class="pe" cx="3073" cy="2460"/><circle class="pe" cx="3094" cy="2461"/><circle class="pe" cx="3062" cy="2488"/><circle class="pe" cx="3083" cy="2508"/><circle class="pe" cx="3104" cy="2506"/>
<circle class="pe" cx="3050" cy="2533"/><circle class="pe" cx="3117" cy="2533"/><circle class="pe" cx="3059" cy="2541"/><circle class="pe" cx="3107" cy="2541"/><circle class="pe" cx="3048" cy="2550"/><circle class="pe" cx="3070" cy="2550"/><circle class="pe" cx="3082" cy="2550"/><circle class="pe" cx="3093" cy="2550"/><circle class="pe" cx="3113" cy="2550"/><circle class="pe" cx="3053" cy="2558"/><circle class="pe" cx="3067" cy="2558"/><circle class="pe" cx="3099" cy="2558"/><circle class="pe" cx="3110" cy="2558"/><circle class="pe" cx="3048" cy="2570"/><circle class="pe" cx="3062" cy="2570"/><circle class="pe" cx="3076" cy="2570"/><circle class="pe" cx="3090" cy="2570"/><circle class="pe" cx="3104" cy="2570"/><circle class="pe" cx="3117" cy="2570"/><circle class="pe" cx="3053" cy="2583"/><circle class="pe" cx="3070" cy="2583"/><circle class="pe" cx="3083" cy="2583"/><circle class="pe" cx="3098" cy="2583"/><circle class="pe" cx="3113" cy="2583"/><circle class="pe" cx="3070" cy="2594"/><circle class="pe" cx="3083" cy="2594"/><circle class="pe" cx="3098" cy="2594"/><circle class="pe" cx="3083" cy="2602"/><circle class="pe" cx="3062" cy="2619"/><circle class="pe" cx="3083" cy="2631"/><circle class="pe" cx="3104" cy="2631"/>
<circle class="pe" cx="3208" cy="1858"/><circle class="pe" cx="3198" cy="1901"/><circle class="pe" cx="3218" cy="1910"/><circle class="pe" cx="3218" cy="2084"/><circle class="pe" cx="3198" cy="2098"/><circle class="pe" cx="3198" cy="2120"/><circle class="pe" cx="3218" cy="2134"/><circle class="pe" cx="3208" cy="2261"/><circle class="pe" cx="3198" cy="2286"/><circle class="pe" cx="3218" cy="2301"/><circle class="pe" cx="3208" cy="2366"/><circle class="pe" cx="3208" cy="2409"/><circle class="pe" cx="3187" cy="2488"/><circle class="pe" cx="3228" cy="2506"/><circle class="pe" cx="3187" cy="2536"/><circle class="pe" cx="3208" cy="2537"/><circle class="pe" cx="3228" cy="2531"/><circle class="pe" cx="3177" cy="2558"/><circle class="pe" cx="3192" cy="2554"/><circle class="pe" cx="3207" cy="2547"/><circle class="pe" cx="3218" cy="2558"/><circle class="pe" cx="3238" cy="2558"/><circle class="pe" cx="3175" cy="2570"/><circle class="pe" cx="3198" cy="2577"/><circle class="pe" cx="3218" cy="2569"/><circle class="pe" cx="3240" cy="2577"/><circle class="pe" cx="3218" cy="2591"/><circle class="pe" cx="3198" cy="2620"/><circle class="pe" cx="3218" cy="2610"/>
</g>
<path id="medians" d="M2667,2569 H2752 M2917,2500 H3001 M3042,2558 H3126 M3166,2536 H3250" stroke="#111" stroke-width="3"/>
</g>
</svg>
